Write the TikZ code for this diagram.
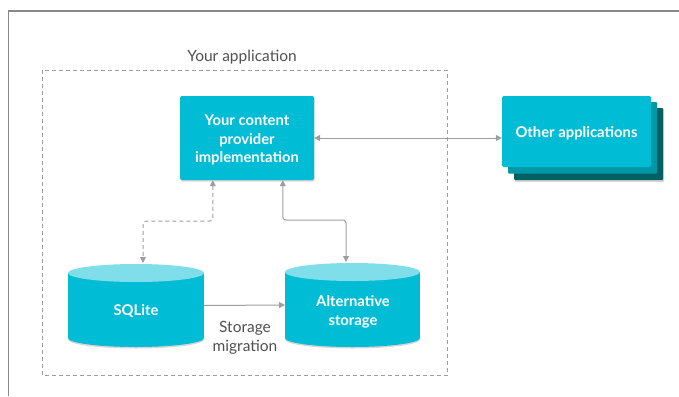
\documentclass[tikz,border=0pt]{standalone}
\usepackage{fontspec}
\setmainfont{Lato}
\usetikzlibrary{arrows.meta,calc}
\definecolor{cyanm}{HTML}{00BCD4}
\definecolor{cyanl}{HTML}{80DEEA}
\definecolor{tealb}{HTML}{0097A7}
\definecolor{tealc}{HTML}{006064}
\definecolor{linegray}{HTML}{9E9E9E}
\definecolor{textgray}{HTML}{505050}
\definecolor{framegray}{HTML}{888888}
\definecolor{shadowgray}{HTML}{D6D6D6}
\tikzset{
  box/.style={fill=cyanm, rounded corners=1.5pt, text=white, align=center, inner sep=0pt,
    font=\bfseries\fontsize{14.8}{18.5}\selectfont},
  holder/.style={inner sep=0pt, outer sep=0pt},
  celltext/.style={text=white, align=center, inner sep=0pt, font=\bfseries\fontsize{14.8}{19}\selectfont},
  conn/.style={draw=linegray, line width=1pt, rounded corners=3pt},
  tips/.style={{Triangle[length=6pt,width=6pt]}-{Triangle[length=6pt,width=6pt]}},
  endtip/.style={-{Triangle[length=6pt,width=6pt]}},
  graytext/.style={text=textgray, align=center, inner sep=0pt, font=\fontsize{15.5}{19}\selectfont},
}
\begin{document}
\begin{tikzpicture}[x=1pt,y=-1pt]
\useasboundingbox (0,0) rectangle (679,396);
% outer frame (top and left edges)
\draw[framegray, line width=1.2pt] (8.5,396) -- (8.5,11) -- (679,11);
% dashed application box
\draw[linegray, line width=0.9pt, dash pattern=on 4pt off 3pt] (42,70) rectangle (447,375.5);
\node[graytext] (applbl) at (242,57) {Your application};

% content provider box
\fill[shadowgray, rounded corners=1.5pt] (180.5,97) rectangle (314.5,181.5);
\node[box, minimum width=134pt, minimum height=84pt] (prov) at (247,138) {};
\node[box, fill=none] (provtxt) at (247,140) {Your content\\provider\\implementation};

% other applications stack
\fill[shadowgray] (514.5,109) rectangle (663.5,181.5);
\fill[tealc, rounded corners=1pt] (514,108) rectangle (663,180);
\fill[tealb, rounded corners=1pt] (508,102) rectangle (657,173.5);
\node[box, minimum width=149pt, minimum height=71pt, text depth=0pt] (other) at (576.5,131.5) {};
\node[box, fill=none] (othertxt) at (576.5,133) {Other applications};

% SQLite cylinder
\fill[shadowgray] (136,339.5) ellipse [x radius=68, y radius=9];
\fill[cyanm] (136,338) ellipse [x radius=68, y radius=9];
\fill[cyanm] (68,273) rectangle (204,338);
\fill[cyanl] (136,273) ellipse [x radius=68, y radius=9];
\node[holder, minimum width=136pt, minimum height=83pt] (sql) at (136,305.5) {};
\node[celltext] (sqltxt) at (136,311) {SQLite};

% Alternative storage cylinder
\fill[shadowgray] (352.5,339.5) ellipse [x radius=67.5, y radius=9];
\fill[cyanm] (352.5,338) ellipse [x radius=67.5, y radius=9];
\fill[cyanm] (285,272) rectangle (420,338);
\fill[cyanl] (352.5,272) ellipse [x radius=67.5, y radius=9];
\node[holder, minimum width=135pt, minimum height=84pt] (alt) at (352.5,305) {};
\node[celltext] (alttxt) at (353,311.5) {Alternative\\storage};

% connectors
\draw[conn, tips] (prov.east) -- (other.west |- prov.east);
\draw[conn, tips, dash pattern=on 4pt off 3pt] ($(prov.south west)+(33,0)$) |- ($(sql.north west)+(75,-43)$) -- ($(sql.north west)+(75,-1)$);
\draw[conn, tips] ($(prov.south west)+(103,0)$) |- ($(alt.north west)+(61,-43)$) -- ($(alt.north west)+(61,-1)$);
\draw[conn, endtip] (sql.east) -- (alt.west);
\node[graytext] (miglbl) at (245,338) {Storage\\migration};
\end{tikzpicture}
\end{document}
